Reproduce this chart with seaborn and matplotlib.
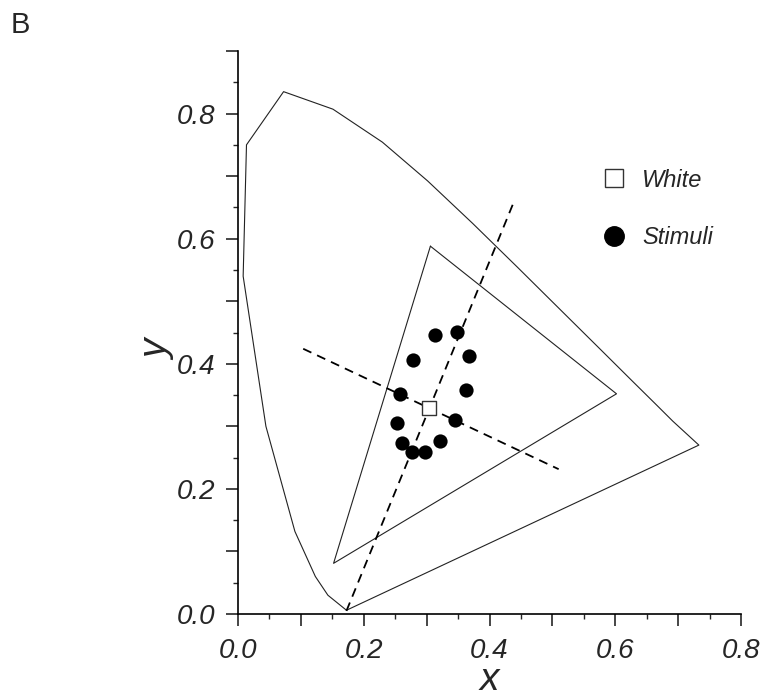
import matplotlib
matplotlib.use("Agg")
import matplotlib.pyplot as plt
from matplotlib.lines import Line2D
from matplotlib.ticker import MultipleLocator, FuncFormatter
import seaborn as sns
import pandas as pd

# Spectral locus (CIE 1931 chromaticity boundary)
locus_x = [0.1725, 0.143, 0.123, 0.0905, 0.0444, 0.0082, 0.0135, 0.0725, 0.151,
           0.2296, 0.3016, 0.3731, 0.4441, 0.5125, 0.5752, 0.6270, 0.6658, 0.6915,
           0.733, 0.1725]
locus_y = [0.006, 0.030, 0.060, 0.132, 0.300, 0.540, 0.750, 0.835, 0.807,
           0.7543, 0.6923, 0.6245, 0.5547, 0.4866, 0.4242, 0.3725, 0.3340, 0.3083,
           0.270, 0.006]

# Monitor gamut triangle
gamut_x = [0.306, 0.602, 0.152, 0.306]
gamut_y = [0.588, 0.352, 0.081, 0.588]

# Dashed axes through the white point
dash1_x = [0.1725, 0.438]
dash1_y = [0.005, 0.657]
dash2_x = [0.1037, 0.510]
dash2_y = [0.424, 0.2315]

# White point
white_x = [0.304]
white_y = [0.329]

# Stimuli
stim_x = [0.3138, 0.3487, 0.2783, 0.3667, 0.3630, 0.2577, 0.3444, 0.2535,
          0.3206, 0.2614, 0.2979, 0.2767]
stim_y = [0.4464, 0.4501, 0.4059, 0.4117, 0.3579, 0.3515, 0.3104, 0.3051,
          0.2768, 0.2741, 0.2597, 0.2587]

sns.set_style("white")
plt.rcParams['font.family'] = ['Liberation Sans', 'DejaVu Sans']

fig = plt.figure(figsize=(7.65, 7.0), dpi=100)
ax = fig.add_axes([238 / 765, 86 / 700, 503 / 765, 563 / 700])

lw_thin = 0.8
sns.lineplot(x=locus_x, y=locus_y, sort=False, estimator=None, ax=ax,
             color="#222222", linewidth=lw_thin)
sns.lineplot(x=gamut_x, y=gamut_y, sort=False, estimator=None, ax=ax,
             color="#222222", linewidth=lw_thin)
for dx, dy in [(dash1_x, dash1_y), (dash2_x, dash2_y)]:
    sns.lineplot(x=dx, y=dy, sort=False, estimator=None, ax=ax,
                 color="black", linewidth=1.3, linestyle=(0, (5, 3.5)))

sns.scatterplot(x=stim_x, y=stim_y, ax=ax, color="black", s=105,
                edgecolor="black", linewidth=0, zorder=5)
sns.scatterplot(x=white_x, y=white_y, ax=ax, marker="s", s=90,
                facecolor="white", edgecolor="#333333", linewidth=1.0, zorder=6)

ax.set_xlim(0, 0.8)
ax.set_ylim(0, 0.9)

for s in ["top", "right"]:
    ax.spines[s].set_visible(False)
for s in ["left", "bottom"]:
    ax.spines[s].set_linewidth(1.2)
    ax.spines[s].set_color("black")

ax.xaxis.set_major_locator(MultipleLocator(0.1))
ax.xaxis.set_minor_locator(MultipleLocator(0.05))
ax.yaxis.set_major_locator(MultipleLocator(0.1))
ax.yaxis.set_minor_locator(MultipleLocator(0.05))

def fmt(v, pos):
    k = int(round(v * 10))
    return f"{v:.1f}" if k % 2 == 0 else ""

ax.xaxis.set_major_formatter(FuncFormatter(fmt))
ax.yaxis.set_major_formatter(FuncFormatter(fmt))
ax.tick_params(which="major", direction="out", length=8.5, width=1.2,
               labelsize=20, bottom=True, left=True)
ax.tick_params(axis="y", which="major", pad=8)
ax.tick_params(axis="x", which="major", pad=9)
ax.tick_params(which="minor", direction="out", length=3.6, width=1.0,
               bottom=True, left=True)
for lab in ax.get_xticklabels() + ax.get_yticklabels():
    lab.set_fontstyle("italic")

ax.set_xlabel("x", fontsize=28, fontstyle="italic")
ax.set_ylabel("y", fontsize=28, fontstyle="italic")
ax.xaxis.label.set_va("baseline")
ax.xaxis.set_label_coords(0.5, -(690 - 614) / 563)
ax.yaxis.label.set_va("center")
ax.yaxis.set_label_coords((158 - 238) / 503, (614 - 350) / 563)

handles = [
    Line2D([], [], marker="s", linestyle="none", markersize=13,
           markerfacecolor="white", markeredgecolor="#333333", markeredgewidth=1.0),
    Line2D([], [], marker="o", linestyle="none", markersize=14,
           markerfacecolor="black", markeredgecolor="black"),
]
leg = ax.legend(handles, ["White", "Stimuli"], loc="upper left",
                bbox_to_anchor=(0.70, 0.808), frameon=False,
                prop={"size": 17, "style": "italic"},
                labelspacing=1.45, handletextpad=0.6, handlelength=1.2,
                borderaxespad=0)

fig.text(11 / 765, 1 - 33 / 700, "B", fontsize=21, ha="left", va="baseline")

fig.savefig("out.png", dpi=100)
